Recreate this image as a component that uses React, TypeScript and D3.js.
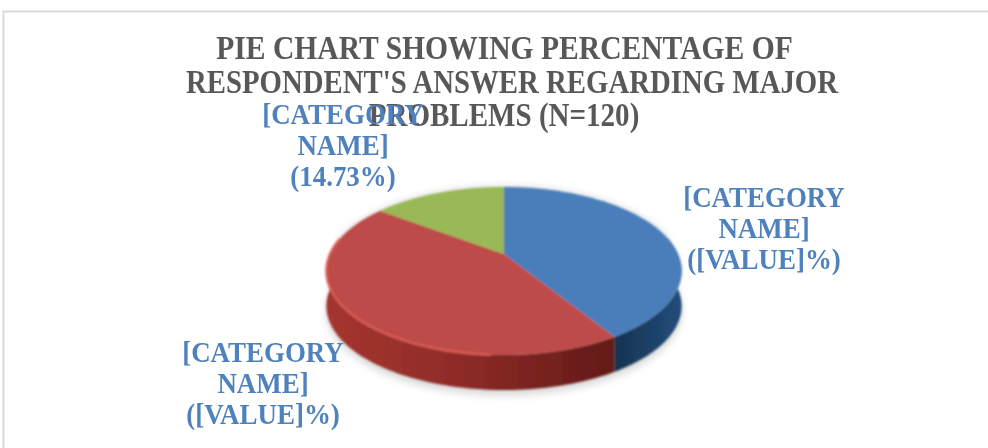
import React from "react";
import * as d3 from "d3";

const sliceNames = ["Blue", "Red", "Green"];
const sliceValues = [41.2, 44.07, 14.73];
const topColors = ["#4a7ebb", "#bd4c49", "#98b954"];
const sideLight = ["#234d7c", "#a5352f", "#76933c"];
const sideDark = ["#15324f", "#631a18", "#4f6228"];
const titleLines = [
  "PIE CHART SHOWING PERCENTAGE OF",
  "RESPONDENT'S ANSWER REGARDING MAJOR",
  "PROBLEMS (N=120)",
];
const labelLines = [
  ["[CATEGORY", "NAME]", "([VALUE]%)"],
  ["[CATEGORY", "NAME]", "([VALUE]%)"],
  ["[CATEGORY", "NAME]", "(14.73%)"],
];
const labelAnchors = [
  { x: 764, y: 207 },
  { x: 263, y: 362 },
  { x: 343, y: 124 },
];

const W = 988;
const H = 448;
const cx = 504;
const cy = 254;
const persp = -0.202;
const kx = 174;
const ky = 80.6;
const depth = 35;
const titleCenters = [504.5, 512, 504];
const titleScales = [0.897, 0.873, 0.88];
const labelScale = 0.945;

// Projects a pie angle (clockwise from 12 o'clock) onto the tilted disc.
const project = (a: number, r = 1): [number, number] => {
  const u = Math.sin(a) * r;
  const v = -Math.cos(a) * r;
  const d = 1 + persp * v;
  return [cx + (kx * u) / d, cy + (ky * v) / d];
};

const arcs = d3.pie<number>().sort(null)(sliceValues);
const line = d3.line<[number, number]>();
const samples = (a: number, b: number, n = 90) =>
  d3.range(n + 1).map((i) => a + ((b - a) * i) / n);

const topPath = (a: number, b: number) =>
  line([[cx, cy], ...samples(a, b).map((t) => project(t))])! + "Z";

// Rim angles where the band is visible: the lower half of the projected outline.
const frontStart = Math.PI / 2 - 0.2;
const frontEnd = (3 * Math.PI) / 2 + 0.2;
const highlightEnd = Math.PI * 1.02;

const sidePath = (a: number, b: number) => {
  const s = Math.max(a, frontStart);
  const e = Math.min(b, frontEnd);
  if (e <= s) return "";
  const upper = samples(s, e).map((t) => project(t));
  const lower = upper
    .slice()
    .reverse()
    .map(([x, y]) => [x, y + depth] as [number, number]);
  return line([...upper, ...lower])! + "Z";
};

const rimPath = (a: number, b: number) => {
  const s = Math.max(a, highlightEnd);
  const e = Math.min(b, frontEnd);
  return e > s ? line(samples(s, e).map((t) => project(t))) ?? "" : "";
};

const outlineFront = samples(frontStart, frontEnd).map((t) => project(t));
const shadowPath =
  line([
    ...outlineFront.map(([x, y]) => [x, y + depth + 5] as [number, number]),
    ...samples(frontEnd, frontStart + 2 * Math.PI).map((t) => project(t)),
  ])! + "Z";

export default function App() {
  return (
    <svg
      width={W}
      height={H}
      viewBox={`0 0 ${W} ${H}`}
      style={{ position: "absolute", left: 0, top: 0, background: "#fff" }}
    >
      <defs>
        <filter id="soft" x="-10%" y="-10%" width="120%" height="120%">
          <feGaussianBlur stdDeviation="0.9" />
        </filter>
        <filter id="textSoft" x="-5%" y="-5%" width="110%" height="110%">
          <feGaussianBlur stdDeviation="0.35" />
        </filter>
        <filter id="shadow" x="-10%" y="-10%" width="120%" height="130%">
          <feGaussianBlur stdDeviation="4" />
        </filter>
        <linearGradient id="sideRed" gradientUnits="userSpaceOnUse" x1="326" x2="612" y1="0" y2="0">
          <stop offset="0" stopColor={sideLight[1]} />
          <stop offset="0.45" stopColor="#8f2c28" />
          <stop offset="1" stopColor={sideDark[1]} />
        </linearGradient>
        <linearGradient id="sideBlue" gradientUnits="userSpaceOnUse" x1="612" x2="682" y1="0" y2="0">
          <stop offset="0" stopColor={sideDark[0]} />
          <stop offset="1" stopColor={sideLight[0]} />
        </linearGradient>
        <linearGradient id="sideGreen" gradientUnits="userSpaceOnUse" x1="326" x2="682" y1="0" y2="0">
          <stop offset="0" stopColor={sideLight[2]} />
          <stop offset="1" stopColor={sideDark[2]} />
        </linearGradient>
      </defs>

      <path d={`M3.5,${H}V11.5H${W}`} fill="none" stroke="#d9d9d9" strokeWidth={2} />

      <path d={shadowPath} fill="#000" opacity={0.16} filter="url(#shadow)" />

      <g filter="url(#soft)">
        {arcs.map((d, i) => (
          <path
            key={sliceNames[i]}
            d={sidePath(d.startAngle, d.endAngle)}
            fill={i === 0 ? "url(#sideBlue)" : i === 1 ? "url(#sideRed)" : "url(#sideGreen)"}
          />
        ))}
        {arcs.map((d, i) => (
          <path key={sliceNames[i]} d={topPath(d.startAngle, d.endAngle)} fill={topColors[i]} />
        ))}
        {arcs.map((d, i) => (
          <path
            key={sliceNames[i]}
            d={rimPath(d.startAngle, d.endAngle)}
            fill="none"
            stroke="#de5f58"
            strokeWidth={2.5}
            opacity={0.85}
          />
        ))}
      </g>

      <g fontFamily="'Liberation Serif', serif" fontWeight={700} filter="url(#textSoft)">
        <g fill="#595959" fontSize={33} textAnchor="middle">
          {titleLines.map((t, i) => (
            <text
              key={t}
              transform={`translate(${titleCenters[i]},${59 + i * 33.5}) scale(${titleScales[i]},1)`}
            >
              {t}
            </text>
          ))}
        </g>
        <g fill="#4f81bd" fontSize={28.5} textAnchor="middle">
          {labelLines.map((lines, i) =>
            lines.map((t, j) => (
              <text
                key={`${i}-${j}`}
                transform={`translate(${labelAnchors[i].x},${labelAnchors[i].y + j * 31}) scale(${labelScale},1)`}
              >
                {t}
              </text>
            ))
          )}
        </g>
      </g>
    </svg>
  );
}
